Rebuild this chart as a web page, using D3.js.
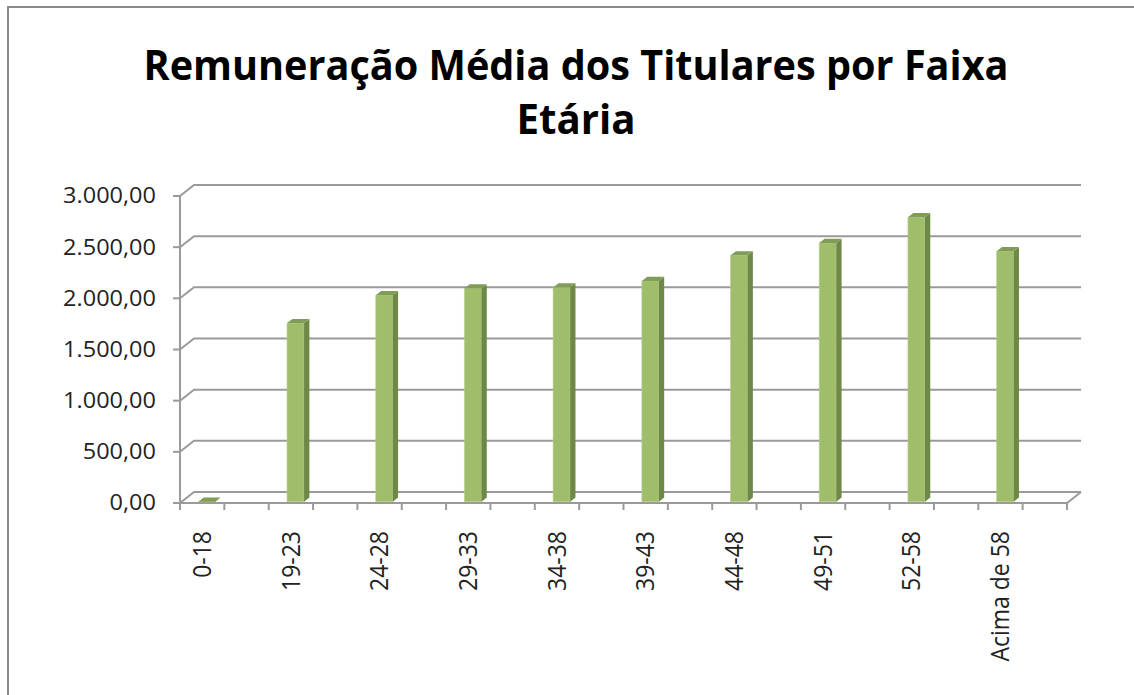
<!DOCTYPE html>
<html>
<head>
<meta charset="utf-8">
<script src="https://cdn.jsdelivr.net/npm/d3@7.9.0/dist/d3.min.js"></script>
<style>
  body { margin: 0; background: #fff; }
  svg { display: block; font-family: 'Open Sans', sans-serif; }
</style>
</head>
<body>
<svg width="1134" height="695"></svg>
<script>
// data
const categories = ['0-18', '19-23', '24-28', '29-33', '34-38', '39-43', '44-48', '49-51', '52-58', 'Acima de 58'];
const values = [0, 1745, 2018, 2083, 2093, 2157, 2407, 2528, 2780, 2447];
const yTicks = [0, 500, 1000, 1500, 2000, 2500, 3000];
const titleLines = ['Remuneração Média dos Titulares por Faixa', 'Etária'];

const svg = d3.select('svg');

// depth of the 3d box (oblique projection)
const DX = 14, DY = -11;
const z0 = 0.12, z1 = 0.5;   // bar front / back depth fraction

const x = d3.scaleBand().domain(categories).range([180, 1067]);
const y = d3.scaleLinear().domain([0, 3000]).range([503, 196]);
const bw = x.bandwidth();
const fmt = (v) => d3.format(',.2f')(v).replace(/,/g, 'X').replace('.', ',').replace(/X/g, '.');

// chart frame
svg.append('path')
  .attr('d', 'M8,700 L8,7 L1140,7')
  .attr('fill', 'none')
  .attr('stroke', '#8a8a8a')
  .attr('stroke-width', 2);

// title
svg.append('g')
  .selectAll('text')
  .data(titleLines)
  .join('text')
  .attr('x', 576)
  .attr('y', (d, i) => 80 + i * 54)
  .attr('text-anchor', 'middle')
  .attr('font-size', 42)
  .attr('font-weight', 'bold')
  .attr('fill', '#000')
  .attr('textLength', (d, i) => (i === 0 ? 865 : 119))
  .attr('lengthAdjust', 'spacingAndGlyphs')
  .text((d) => d);

// grid: side wall diagonal + back wall line
const grid = svg.append('g')
  .attr('fill', 'none')
  .attr('stroke', '#9a9a9a')
  .attr('stroke-width', 2);

grid.selectAll('path')
  .data(yTicks)
  .join('path')
  .attr('d', (v) => `M${x.range()[0]},${y(v)} L${x.range()[0] + DX},${y(v) + DY} L${x.range()[1] + DX},${y(v) + DY}`);

// floor front and right edge
grid.append('path')
  .attr('d', `M${x.range()[0]},${y(0)} L${x.range()[1]},${y(0)} L${x.range()[1] + DX},${y(0) + DY}`);

// y axis line and ticks
grid.append('line')
  .attr('x1', 180).attr('x2', 180)
  .attr('y1', y(3000)).attr('y2', y(0));

grid.selectAll('line.ytick')
  .data(yTicks)
  .join('line')
  .attr('class', 'ytick')
  .attr('x1', 173).attr('x2', 180)
  .attr('y1', (v) => y(v)).attr('y2', (v) => y(v));

// x ticks every half band
const xTickPos = d3.range(categories.length * 2 + 1).map((i) => x.range()[0] + i * bw / 2);
grid.selectAll('line.xtick')
  .data(xTickPos)
  .join('line')
  .attr('class', 'xtick')
  .attr('x1', (d) => d).attr('x2', (d) => d)
  .attr('y1', y(0)).attr('y2', y(0) + 7);

// y labels
svg.append('g')
  .selectAll('text')
  .data(yTicks)
  .join('text')
  .attr('transform', (v) => `translate(156,${y(v)}) scale(1.12,1)`)
  .attr('dy', '0.35em')
  .attr('text-anchor', 'end')
  .attr('font-size', 21)
  .attr('fill', '#222')
  .text((v) => fmt(v));

// x labels
svg.append('g')
  .selectAll('text')
  .data(categories)
  .join('text')
  .attr('transform', (c) => `translate(${x(c) + bw / 4},531) scale(1.08,1) rotate(-90)`)
  .attr('dy', '0.35em')
  .attr('text-anchor', 'end')
  .attr('font-size', 23)
  .attr('fill', '#222')
  .text((c) => c);

// bars
const barW = 17;
const sx = (z1 - z0) * DX, sy = (z1 - z0) * DY;
const bars = svg.append('g')
  .selectAll('g')
  .data(categories.map((c, i) => ({ c, v: values[i] })))
  .join('g');

const geo = (d) => {
  const cx = x(d.c) + bw / 4 + 3;
  const xl = cx - barW / 2 + z0 * DX;
  const xr = xl + barW;
  const yb = y(0) + z0 * DY;
  const yt = y(d.v) + z0 * DY;
  return { xl, xr, yb, yt };
};

bars.append('path')
  .attr('fill', '#a0bd6c')
  .attr('stroke', '#b4cd88')
  .attr('stroke-width', 0.6)
  .attr('d', (d) => {
    const g = geo(d);
    return `M${g.xl},${g.yb} L${g.xr},${g.yb} L${g.xr},${g.yt} L${g.xl},${g.yt} Z`;
  });

bars.append('path')
  .attr('fill', '#6e8947')
  .attr('d', (d) => {
    const g = geo(d);
    return `M${g.xr},${g.yb} L${g.xr + sx},${g.yb + sy} L${g.xr + sx},${g.yt + sy} L${g.xr},${g.yt} Z`;
  });

bars.append('path')
  .attr('fill', '#7f9d55')
  .attr('d', (d) => {
    const g = geo(d);
    return `M${g.xl},${g.yt} L${g.xr},${g.yt} L${g.xr + sx},${g.yt + sy} L${g.xl + sx},${g.yt + sy} Z`;
  });
</script>
</body>
</html>
